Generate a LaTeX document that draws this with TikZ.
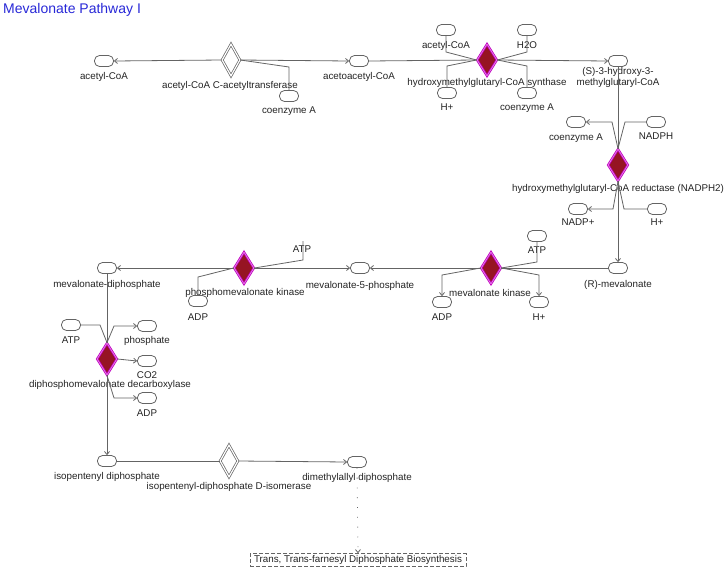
\documentclass[tikz,border=0pt]{standalone}
\usepackage{fontspec}
\setmainfont{Liberation Sans}
\usetikzlibrary{shapes.geometric,arrows.meta}
\definecolor{linec}{RGB}{100,100,100}
\definecolor{txtc}{RGB}{35,35,35}
\definecolor{titlec}{RGB}{40,40,215}
\definecolor{enzfill}{RGB}{150,20,35}
\definecolor{enzdraw}{RGB}{190,0,190}
\definecolor{enzinner}{RGB}{235,130,235}
\begin{document}
\begin{tikzpicture}[x=1pt,y=-1pt,
 mol/.style={draw=linec, line width=0.8pt, rectangle, rounded corners=5pt, minimum width=19pt, minimum height=11pt, inner sep=0pt, fill=white},
 enz/.style={diamond, draw=enzdraw, line width=0.8pt, double=enzinner, double distance=0.7pt, fill=enzfill, minimum width=20pt, minimum height=32pt, inner sep=0pt},
 henz/.style={diamond, draw=linec, line width=0.7pt, double=white, double distance=1.2pt, fill=white, minimum width=18pt, minimum height=32pt, inner sep=0pt},
 lbl/.style={font=\fontsize{9.8}{11}\selectfont, text=txtc, inner sep=0pt, align=center, text height=7pt, text depth=2pt},
 con/.style={draw=linec, line width=0.8pt},
 arr/.style={con, -{Straight Barb[length=3pt,width=5pt]}},
]
\useasboundingbox (0,0) rectangle (726,571);

\node[font=\fontsize{14}{16}\selectfont, text=titlec, anchor=base west, inner sep=0pt] (title) at (3,13.5) {Mevalonate Pathway I};

% top row
\node[mol] (acoa1) at (104,61) {};
\node[lbl] (lacoa1) at (104,77) {acetyl-CoA};
\node[henz] (e1) at (231,60) {};
\node[lbl] (le1) at (230,86) {acetyl-CoA C-acetyltransferase};
\node[mol] (coa1) at (289,96) {};
\node[lbl] (lcoa1) at (289,111) {coenzyme A};
\node[mol] (aacoa) at (359,61) {};
\node[lbl] (laacoa) at (359,77) {acetoacetyl-CoA};
\node[enz] (e2) at (487,60) {};
\node[lbl] (le2) at (487,83) {hydroxymethylglutaryl-CoA synthase};
\node[mol] (acoa2) at (446,30) {};
\node[lbl] (lacoa2) at (446,46) {acetyl-CoA};
\node[mol] (h2o) at (527,30) {};
\node[lbl] (lh2o) at (527,46) {H2O};
\node[mol] (hp1) at (447,93) {};
\node[lbl] (lhp1) at (447,108) {H+};
\node[mol] (coa2) at (527,93) {};
\node[lbl] (lcoa2) at (527,108) {coenzyme A};
\node[mol] (hmg) at (618,61) {};
\node[lbl] (lhmg) at (618,82.5) {(S)-3-hydroxy-3-\\methylglutaryl-CoA};

% reductase
\node[enz] (e3) at (618,165) {};
\node[lbl] (le3) at (618,189) {hydroxymethylglutaryl-CoA reductase (NADPH2)};
\node[mol] (coa3) at (576,122) {};
\node[lbl] (lcoa3) at (576,138) {coenzyme A};
\node[mol] (nadph) at (656,122) {};
\node[lbl] (lnadph) at (656,137) {NADPH};
\node[mol] (nadp) at (578,209) {};
\node[lbl] (lnadp) at (578,223) {NADP+};
\node[mol] (hp2) at (657,209) {};
\node[lbl] (lhp2) at (657,223) {H+};
\node[mol] (rmev) at (618,268) {};
\node[lbl] (lrmev) at (618,285) {(R)-mevalonate};

% mevalonate kinase
\node[enz] (e4) at (491,268) {};
\node[lbl] (le4) at (490,294) {mevalonate kinase};
\node[mol] (atp1) at (537,236) {};
\node[lbl] (latp1) at (537,251) {ATP};
\node[mol] (adp1) at (442,302) {};
\node[lbl] (ladp1) at (442,318) {ADP};
\node[mol] (hp3) at (539,302) {};
\node[lbl] (lhp3) at (539,318) {H+};
\node[mol] (m5p) at (360,268) {};
\node[lbl] (lm5p) at (360,286) {mevalonate-5-phosphate};

% phosphomevalonate kinase
\node[enz] (e5) at (244,268) {};
\node[lbl] (le5) at (245,293) {phosphomevalonate kinase};
\coordinate (atpc) at (303,241);
\node[lbl] (latp2) at (302,250) {ATP};
\node[mol] (adp2) at (198,301) {};
\node[lbl] (ladp2) at (198,318) {ADP};
\node[mol] (mdp) at (107,268) {};
\node[lbl] (lmdp) at (107,285) {mevalonate-diphosphate};

% decarboxylase
\node[enz] (e6) at (107,359) {};
\node[lbl] (le6) at (110,385) {diphosphomevalonate decarboxylase};
\node[mol] (atp3) at (71,325) {};
\node[lbl] (latp3) at (71,341) {ATP};
\node[mol] (pho) at (147,326) {};
\node[lbl] (lpho) at (147,341) {phosphate};
\node[mol] (co2) at (147,361) {};
\node[lbl] (lco2) at (147,376) {CO2};
\node[mol] (adp3) at (147,398) {};
\node[lbl] (ladp3) at (147,414) {ADP};

% isomerase
\node[mol] (ipp) at (107,461) {};
\node[lbl] (lipp) at (107,477) {isopentenyl diphosphate};
\node[henz] (e7) at (229,461) {};
\node[lbl] (le7) at (229,487) {isopentenyl-diphosphate D-isomerase};
\node[mol] (dmapp) at (357,462) {};
\node[lbl] (ldmapp) at (357,478) {dimethylallyl diphosphate};
\node[lbl, draw=linec, line width=0.7pt, dash pattern=on 4pt off 2pt, minimum width=216pt, minimum height=13pt] (pathw) at (358,560) {Trans, Trans-farnesyl Diphosphate Biosynthesis};

% connectors
\draw[arr] (e1.west) -- (acoa1.east);
\draw[arr] (e1.east) -- (aacoa.west);
\draw[con] (e1.east) -- (289,67) -- (coa1.north);
\draw[con] (aacoa.east) -- (e2.west);
\draw[arr] (e2.east) -- (hmg.west);
\draw[con] (acoa2.south) -- (446,52) -- (e2.west);
\draw[con] (h2o.south) -- (527,52) -- (e2.east);
\draw[con] (e2.west) -- (447,66) -- (hp1.north);
\draw[con] (e2.east) -- (527,66) -- (coa2.north);

\draw[con] (hmg.south) -- (e3.north);
\draw[arr] (e3.south) -- (rmev.north);
\draw[arr] (e3.north) -- (612,122) -- (coa3.east);
\draw[con] (nadph.west) -- (625,122) -- (e3.north);
\draw[arr] (e3.south) -- (613,209) -- (nadp.east);
\draw[con] (hp2.west) -- (624,209) -- (e3.south);

\draw[con] (rmev.west) -- (e4.east);
\draw[arr] (e4.west) -- (m5p.east);
\draw[con] (atp1.south) -- (537,262) -- (e4.east);
\draw[arr] (e4.west) -- (442,275) -- (adp1.north);
\draw[arr] (e4.east) -- (539,275) -- (hp3.north);

\draw[arr] (e5.east) -- (m5p.west);
\draw[arr] (e5.west) -- (mdp.east);
\draw[con] (atpc) -- (303,260) -- (e5.east);
\draw[con] (e5.west) -- (198,277) -- (adp2.north);

\draw[con] (mdp.south) -- (e6.north);
\draw[arr] (e6.south) -- (ipp.north);
\draw[con] (atp3.east) -- (100,325) -- (e6.north);
\draw[arr] (e6.north) -- (114,326) -- (pho.west);
\draw[arr] (e6.east) -- (co2.west);
\draw[arr] (e6.south) -- (114,398) -- (adp3.west);

\draw[con] (ipp.east) -- (e7.west);
\draw[arr] (e7.east) -- (dmapp.west);
\draw[arr, dash pattern=on 0.8pt off 9pt] (dmapp.south) -- (pathw.north);
\end{tikzpicture}
\end{document}
